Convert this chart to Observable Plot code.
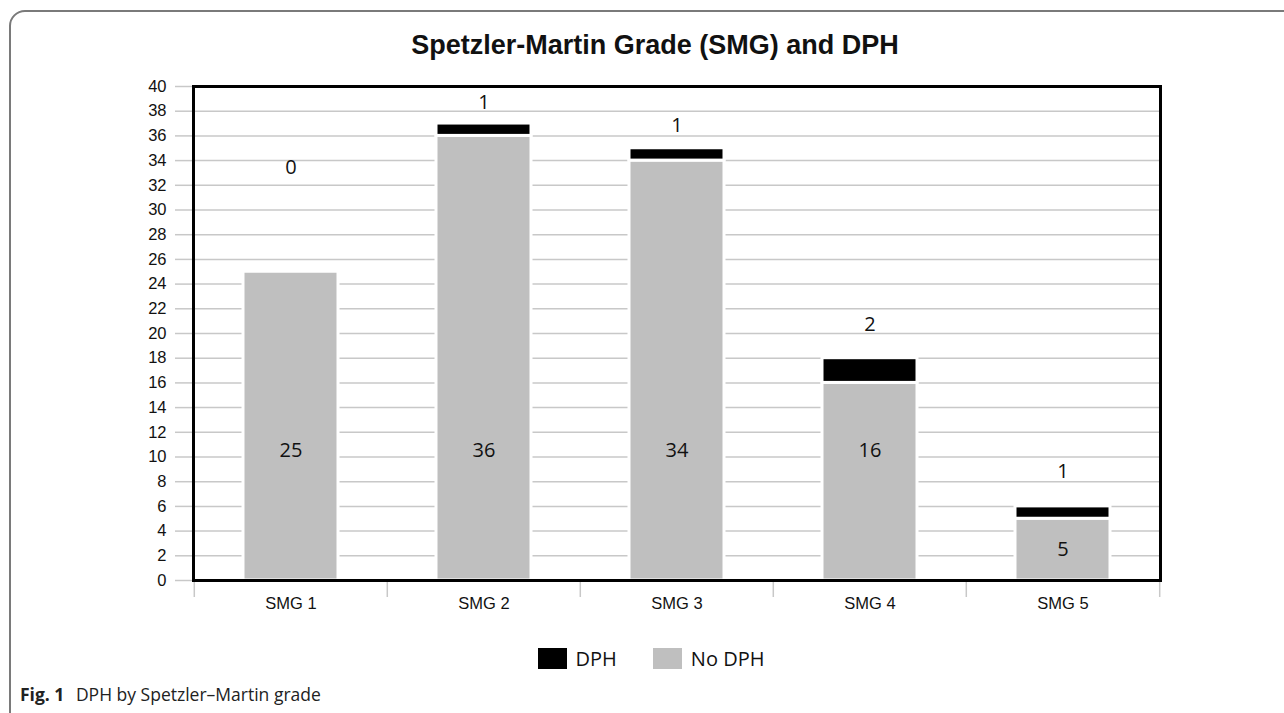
<!DOCTYPE html>
<html>
<head>
<meta charset="utf-8">
<script src="https://cdn.jsdelivr.net/npm/d3@7"></script>
<script src="https://cdn.jsdelivr.net/npm/@observablehq/plot@0.6"></script>
<style>
  html, body { margin: 0; padding: 0; background: #fff; }
  #wrap { position: relative; width: 1284px; height: 713px; overflow: hidden; background: #fff; }
  #border { position: absolute; left: 9px; top: 10px; width: 1300px; height: 760px;
            border: 2px solid #7a7a7a; border-radius: 16px; box-sizing: border-box; }
  #title { position: absolute; left: 0; width: 1310px; top: 30px; text-align: center;
           font: bold 27px "Liberation Sans", Arial, sans-serif; color: #111; }
  #chart { position: absolute; left: 0; top: 70px; }
  #legend { position: absolute; top: 645px; left: 0; width: 1302px; display: flex; justify-content: center;
            font: 20px "Open Sans", sans-serif; color: #111; }
  .item { display: flex; align-items: center; margin: 0 18px; }
  .sw { width: 29px; height: 21px; margin-right: 9px; display: inline-block; }
  #caption { position: absolute; left: 20px; top: 682px; font: 17.5px "Open Sans", sans-serif; color: #222; }
  #caption b { font-weight: 700; margin-right: 7px; }
</style>
</head>
<body>
<div id="wrap">
  <div id="border"></div>
  <div id="title">Spetzler-Martin Grade (SMG) and DPH</div>
  <div id="chart"></div>
  <div id="legend"></div>
  <div id="caption"><b>Fig. 1</b> DPH by Spetzler–Martin grade</div>
</div>
<script>
// ---- data ----
const grades = ["SMG 1", "SMG 2", "SMG 3", "SMG 4", "SMG 5"];
const noDPH = [25, 36, 34, 16, 5];
const dph = [0, 1, 1, 2, 1];
const series = ["DPH", "No DPH"];
const seriesColors = ["#000000", "#bfbfbf"];
const yTicks = d3.range(0, 41, 2);
// where the DPH count labels sit (in axis units)
const dphLabelAt = [33.4, 38.7, 36.8, 20.7, 8.85];

// ---- build rows ----
const rows = [];
grades.forEach((g, i) => rows.push({grade: g, series: "No DPH", value: noDPH[i]}));
grades.forEach((g, i) => rows.push({grade: g, series: "DPH", value: dph[i]}));

const innerLabels = grades.map((g, i) => ({grade: g, y: noDPH[i] > 10.5 ? 10.5 : noDPH[i] / 2, text: String(noDPH[i])}));
const topLabels = grades.map((g, i) => ({grade: g, y: dphLabelAt[i], text: String(dph[i])}));

const W = 1284, H = 560;
const mL = 193, mR = 124, mT = 16, mB = 50;
const step = (W - mL - mR) / grades.length;

const chart = Plot.plot({
  width: W,
  height: H,
  marginLeft: mL,
  marginRight: mR,
  marginTop: mT,
  marginBottom: mB,
  style: {fontFamily: "'Liberation Sans', Arial, sans-serif", fontSize: "16px", color: "#111", background: "transparent"},
  x: {domain: grades, paddingInner: 0.51, paddingOuter: 0.255, label: null},
  y: {domain: [0, 40], label: null},
  color: {domain: series, range: seriesColors},
  marks: [
    Plot.gridY(yTicks, {stroke: "#c8c8c8", strokeOpacity: 1, strokeWidth: 1.5}),
    Plot.axisY(yTicks, {tickSize: 18, tickPadding: 9, stroke: "#c8c8c8", strokeWidth: 1.5, fontSize: 16.5, label: null}),
    Plot.axisX({tickSize: 0, tickPadding: 17, fontSize: 16.5, label: null}),
    Plot.axisX({tickSize: 17, text: null, dx: -step / 2, stroke: "#c8c8c8", strokeWidth: 1.5, label: null}),
    Plot.axisX([grades[grades.length - 1]], {tickSize: 17, text: null, dx: step / 2, stroke: "#c8c8c8", strokeWidth: 1.5, label: null}),
    Plot.barY(rows, Plot.stackY({x: "grade", y: "value", fill: "series", stroke: "#fff", strokeWidth: 3})),
    Plot.text(innerLabels, {x: "grade", y: "y", text: "text", fontSize: 20, fontFamily: "'Open Sans', sans-serif", fill: "#111"}),
    Plot.text(topLabels, {x: "grade", y: "y", text: "text", fontSize: 20, fontFamily: "'Open Sans', sans-serif", fill: "#111"}),
    Plot.frame({stroke: "#000", strokeWidth: 3})
  ]
});
document.getElementById("chart").appendChild(chart);

// legend
const leg = document.getElementById("legend");
series.forEach((s, i) => {
  const it = document.createElement("div");
  it.className = "item";
  const sw = document.createElement("span");
  sw.className = "sw";
  sw.style.background = seriesColors[i];
  it.appendChild(sw);
  it.appendChild(document.createTextNode(s));
  leg.appendChild(it);
});
</script>
</body>
</html>
